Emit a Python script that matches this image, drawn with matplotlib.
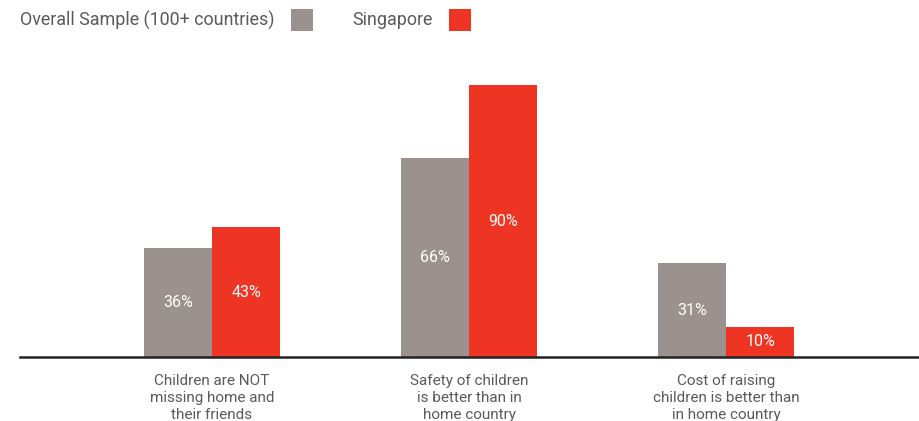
import matplotlib
matplotlib.use("Agg")
import matplotlib.pyplot as plt
from matplotlib.patches import Rectangle
import numpy as np

categories = ["Children are NOT\nmissing home and\ntheir friends",
              "Safety of children\nis better than in\nhome country",
              "Cost of raising\nchildren is better than\nin home country"]
overall = [36, 66, 31]
singapore = [43, 90, 10]
series_names = ["Overall Sample (100+ countries)", "Singapore"]

GRAY = "#9b918e"
RED = "#ee3524"
TXT = "#5a5a5a"

plt.rcParams['font.family'] = ['Roboto', 'DejaVu Sans']

fig = plt.figure(figsize=(9.19, 4.21), dpi=100)
ax = fig.add_axes([20/919, (421-357)/421, 1-20/919, 302/421])

x = np.arange(len(categories))
w = 68/257
b1 = ax.bar(x - w/2, overall, w, color=GRAY, linewidth=0)
b2 = ax.bar(x + w/2, singapore, w, color=RED, linewidth=0)

for bars, vals in ((b1, overall), (b2, singapore)):
    for rect, v in zip(bars, vals):
        ax.text(rect.get_x() + rect.get_width()/2, v/2, f"{v}%",
                ha='center', va='center', color='white', fontsize=11.5)

ax.set_xlim(-0.747, 2.75)
ax.set_ylim(0, 100)
for s in ['top', 'right', 'left']:
    ax.spines[s].set_visible(False)
ax.spines['bottom'].set_color('#222222')
ax.spines['bottom'].set_linewidth(1.8)
ax.set_yticks([])
ax.set_xticks(x)
ax.set_xticklabels(categories, color=TXT, fontsize=11, linespacing=1.3)
ax.tick_params(axis='x', length=0, pad=12)

# legend
fig.text(20/919, 1-20/421, series_names[0], ha='left', va='center', color=TXT, fontsize=12.9)
fig.patches.append(Rectangle((291/919, 1-31/421), 22/919, 22/421, transform=fig.transFigure,
                             facecolor=GRAY, edgecolor='none'))
fig.text(352/919, 1-20/421, series_names[1], ha='left', va='center', color=TXT, fontsize=12.9)
fig.patches.append(Rectangle((449/919, 1-31/421), 22/919, 22/421, transform=fig.transFigure,
                             facecolor=RED, edgecolor='none'))

fig.savefig("out.png", dpi=100)
